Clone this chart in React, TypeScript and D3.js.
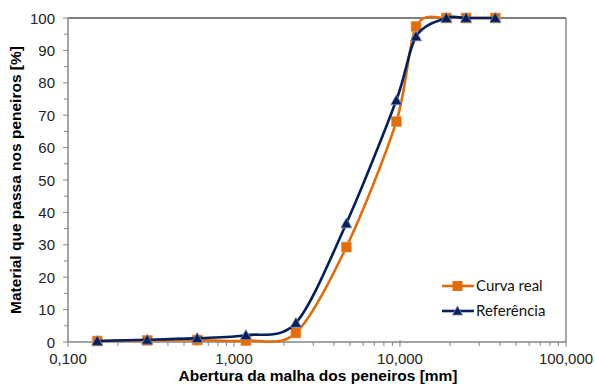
import React from "react";
import * as d3 from "d3";

const sieves = [0.15, 0.3, 0.6, 1.18, 2.36, 4.75, 9.5, 12.5, 19, 25, 37.5];
const curvaReal = [0.3, 0.5, 0.6, 0.4, 2.8, 29.3, 68.0, 97.4, 100, 100, 100];
const referencia = [0.3, 0.7, 1.2, 2.1, 5.9, 36.6, 74.6, 94.3, 100, 100, 100];
const xTickValues = [0.1, 1, 10, 100];
const xTickLabels = ["0,100", "1,000", "10,000", "100,000"];
const yTickValues = [0, 10, 20, 30, 40, 50, 60, 70, 80, 90, 100];
const legendNames = ["Curva real", "Referência"];

const ORANGE = "#E36C09";
const NAVY = "#002060";
const AXIS = "#868686";

export default function App() {
  const W = 595, H = 384;
  const left = 68, right = 566, top = 18, bottom = 342;
  const x = d3.scaleLog().domain([0.1, 100]).range([left, right]);
  const y = d3.scaleLinear().domain([0, 100]).range([bottom, top]);
  const line = d3
    .line<number>()
    .x((_, i) => x(sieves[i]))
    .y((d) => y(d))
    .curve(d3.curveCardinal.tension(0.1));

  const minorX: number[] = [];
  for (let dec = 0.1; dec < 100; dec *= 10) {
    for (let k = 2; k <= 9; k++) minorX.push(+(dec * k).toFixed(4));
  }
  const minorY = d3.range(5, 100, 10);

  const tri = (cx: number, cy: number, s = 5.5) =>
    `M${cx},${cy - s} L${cx + s},${cy + s * 0.8} L${cx - s},${cy + s * 0.8} Z`;

  return (
    <svg
      width={W}
      height={H}
      style={{ position: "absolute", left: 0, top: 0, background: "#fff" }}
      fontFamily="'Liberation Sans', Arial, sans-serif"
    >
      <rect x={0} y={0} width={W} height={H} fill="#fff" />
      {/* frame */}
      <line x1={left} y1={top} x2={right} y2={top} stroke="#000" strokeWidth={1} />
      <line x1={right} y1={top} x2={right} y2={bottom} stroke="#555" strokeWidth={1} />
      {/* y axis */}
      <line x1={left} y1={top} x2={left} y2={bottom} stroke={AXIS} strokeWidth={1.5} />
      {yTickValues.map((v) => (
        <g key={"yt" + v}>
          <line x1={left - 5} x2={left} y1={y(v)} y2={y(v)} stroke={AXIS} strokeWidth={1} />
          <text x={left - 13} y={y(v) + 5.5} textAnchor="end" fontSize={15} fill="#222">
            {v}
          </text>
        </g>
      ))}
      {minorY.map((v) => (
        <line key={"ym" + v} x1={left - 4} x2={left} y1={y(v)} y2={y(v)} stroke={AXIS} strokeWidth={1} />
      ))}
      {/* x axis */}
      <line x1={left} y1={bottom} x2={right} y2={bottom} stroke={AXIS} strokeWidth={1.5} />
      {minorX.map((v) => (
        <line key={"xm" + v} x1={x(v)} x2={x(v)} y1={bottom} y2={bottom + 4} stroke={AXIS} strokeWidth={1} />
      ))}
      {xTickValues.map((v, i) => (
        <g key={"xt" + v}>
          <line x1={x(v)} x2={x(v)} y1={bottom - 2} y2={bottom + 5} stroke={AXIS} strokeWidth={1} />
          <text x={x(v)} y={bottom + 22} textAnchor="middle" fontSize={15} fill="#222">
            {xTickLabels[i]}
          </text>
        </g>
      ))}
      {/* titles */}
      <text x={318} y={381} textAnchor="middle" fontSize={15.5} fontWeight="bold" fill="#000">
        Abertura da malha dos peneiros [mm]
      </text>
      <text
        transform={`translate(21, 180) rotate(-90)`}
        textAnchor="middle"
        fontSize={15.5}
        fontWeight="bold"
        fill="#000"
      >
        Material que passa nos peneiros [%]
      </text>
      {/* series: Curva real */}
      <path d={line(curvaReal) || ""} fill="none" stroke={ORANGE} strokeWidth={2.6} />
      {curvaReal.map((v, i) => (
        <rect
          key={"sq" + i}
          x={x(sieves[i]) - 5}
          y={y(v) - 5}
          width={10}
          height={10}
          fill={ORANGE}
          stroke="#E8A066"
          strokeWidth={0.6}
        />
      ))}
      {/* series: Referência */}
      <path d={line(referencia) || ""} fill="none" stroke={NAVY} strokeWidth={2.6} />
      {referencia.map((v, i) => (
        <path key={"tr" + i} d={tri(x(sieves[i]), y(v))} fill={NAVY} stroke="#7f8aa0" strokeWidth={0.8} />
      ))}
      {/* legend */}
      <g fontFamily="Lato, 'Open Sans', sans-serif" fontSize={15} fill="#111">
        <line x1={442} x2={474} y1={286} y2={286} stroke={ORANGE} strokeWidth={2.6} />
        <rect x={452.5} y={281} width={10} height={10} fill={ORANGE} />
        <text x={476} y={291}>{legendNames[0]}</text>
        <line x1={442} x2={474} y1={311} y2={311} stroke={NAVY} strokeWidth={2.6} />
        <path d={tri(457.5, 311, 5)} fill={NAVY} stroke="#7f8aa0" strokeWidth={0.8} />
        <text x={476} y={316}>{legendNames[1]}</text>
      </g>
    </svg>
  );
}
